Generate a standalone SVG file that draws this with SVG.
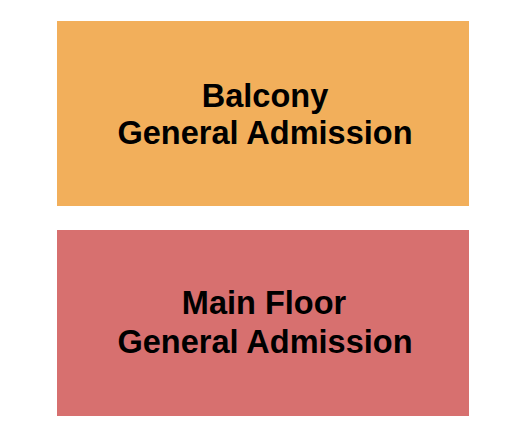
<svg xmlns="http://www.w3.org/2000/svg" width="525" height="444" viewBox="0 0 525 444">
<style>
.lbl{font-family:"Liberation Sans",Arial,sans-serif;font-weight:bold;font-size:32.5px;fill:#000;text-anchor:middle}
</style>
<rect width="525" height="444" fill="#fff"/>
<g id="balcony">
<rect x="57" y="21" width="412" height="185" fill="#F2AF5B"/>
<text class="lbl" x="265" y="106.5">Balcony</text>
<text class="lbl" x="265" y="143.5">General Admission</text>
</g>
<g id="main-floor">
<rect x="57" y="230" width="412" height="186" fill="#D7706F"/>
<text class="lbl" x="264" y="314">Main Floor</text>
<text class="lbl" x="265" y="352.5">General Admission</text>
</g>
<g id="connectors"></g>
</svg>
